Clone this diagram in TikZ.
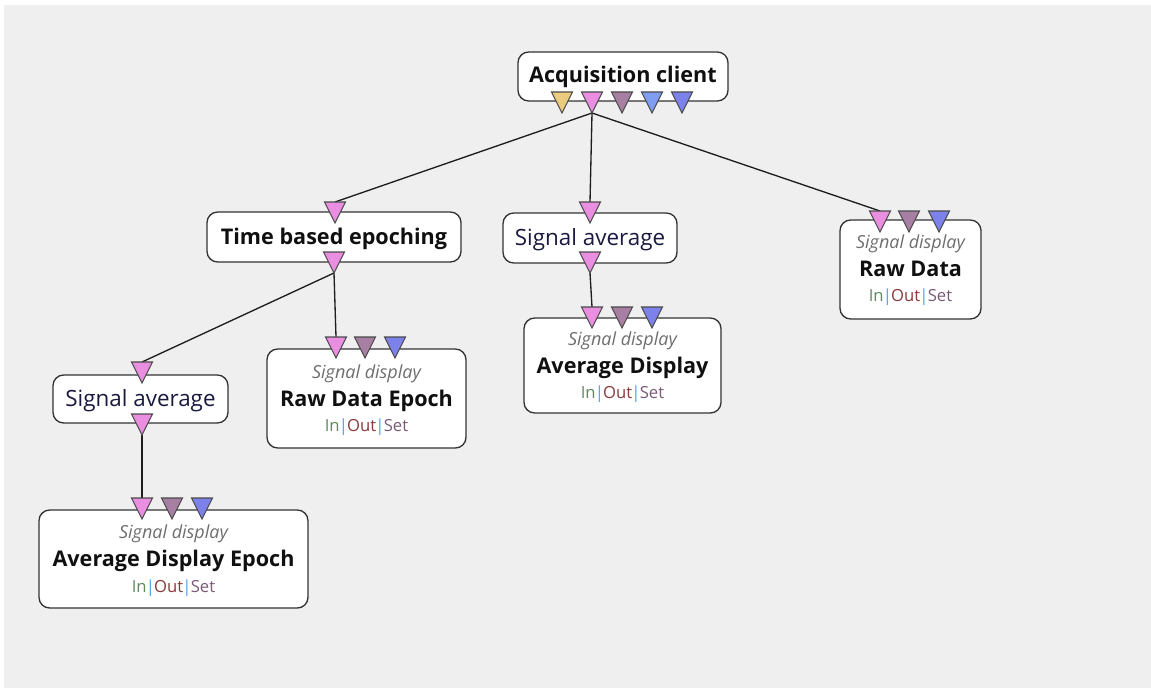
\documentclass[tikz,border=0pt]{standalone}
\usepackage{fontspec}
\setmainfont{Open Sans}
\definecolor{bggray}{HTML}{EFEFEF}
\definecolor{boxline}{HTML}{333333}
\definecolor{edgeline}{HTML}{1E1E1E}
\definecolor{portline}{HTML}{4A4A4A}
\definecolor{pyellow}{HTML}{EDCB7E}
\definecolor{ppink}{HTML}{E98EE0}
\definecolor{pmauve}{HTML}{A77FA2}
\definecolor{plblue}{HTML}{7F9EF2}
\definecolor{pblue}{HTML}{7C82EA}
\definecolor{ctitle}{HTML}{101010}
\definecolor{cplain}{HTML}{1A1A40}
\definecolor{csub}{HTML}{6E6E6E}
\definecolor{cin}{HTML}{5F8A5F}
\definecolor{cout}{HTML}{8B3A3A}
\definecolor{cset}{HTML}{7B5A78}
\definecolor{csep}{HTML}{4F9FE8}
\newcommand\porttri[4]{%
  \filldraw[fill=#4, draw=portline, line width=0.8pt, line join=miter] (#2-10.5,#3) -- (#2+10.5,#3) -- (#2,#3+21) -- cycle;
  \coordinate (#1-top) at (#2,#3);
  \coordinate (#1-tip) at (#2,#3+21);}
\newcommand\ios{{\color{cin}In}\kern-0.05em{\color{csep}|}\kern-0.05em{\color{cout}Out}\kern-0.05em{\color{csep}|}\kern-0.05em{\color{cset}Set}}
\tikzset{
  modbox/.style={draw=boxline, fill=white, line width=1pt, rounded corners=8pt, inner sep=0pt},
  titletext/.style={font=\fontsize{16.2}{18}\selectfont\bfseries, text=ctitle, inner sep=0pt, text height=0.72em, text depth=0pt},
  plaintext/.style={font=\fontsize{16.8}{19}\selectfont, text=cplain, inner sep=0pt, text height=0.72em, text depth=0pt},
  subtext/.style={font=\fontsize{13.5}{15}\selectfont\itshape, text=csub, inner sep=0pt, text height=0.72em, text depth=0pt},
  iotext/.style={font=\fontsize{12.5}{14}\selectfont, inner sep=0pt, text height=0.72em, text depth=0pt},
  conn/.style={draw=edgeline, line width=1pt},
}
\begin{document}
\begin{tikzpicture}[x=0.75pt,y=-0.75pt]
\useasboundingbox (0,0) rectangle (1151,688);
\fill[white] (0,0) rectangle (1151,688);
\fill[bggray] (4,5) rectangle (1151,688);

% boxes
\draw[modbox] (518,52) rectangle (728,101);
\node[titletext] (acqt) at (623,78) {Acquisition client};

\draw[modbox] (207,212) rectangle (461,262);
\node[titletext] (tbet) at (334,240) {Time based epoching};

\draw[modbox] (503,213) rectangle (677,263);
\node[plaintext] (samt) at (590,241) {Signal average};

\draw[modbox] (840,220) rectangle (981,319);
\node[subtext] (rds) at (910.5,244) {Signal display};
\node[titletext] (rdt) at (910.5,272) {Raw Data};
\node[iotext] (rdi) at (910.5,297) {\ios};

\draw[modbox] (524,318) rectangle (721,413);
\node[subtext] (ads) at (622.5,341) {Signal display};
\node[titletext] (adt) at (622.5,369) {Average Display};
\node[iotext] (adi) at (622.5,394) {\ios};

\draw[modbox] (267,349) rectangle (466,448);
\node[subtext] (rdes) at (366.5,374) {Signal display};
\node[titletext] (rdet) at (366.5,402) {Raw Data Epoch};
\node[iotext] (rdei) at (366.5,427) {\ios};

\draw[modbox] (53,375) rectangle (228,423);
\node[plaintext] (salt) at (140.5,402) {Signal average};

\draw[modbox] (39,510) rectangle (308,608);
\node[subtext] (ades) at (173.5,534) {Signal display};
\node[titletext] (adet) at (173.5,562) {Average Display Epoch};
\node[iotext] (adei) at (173.5,588) {\ios};

% port coordinates (drawn after edges)
\coordinate (acq-tip) at (592,113);
\coordinate (tbein-top) at (335,202);
\coordinate (tbeout-tip) at (334,273);
\coordinate (samin-top) at (590,202);
\coordinate (samout-tip) at (590,273);
\coordinate (rdin-top) at (880,211);
\coordinate (adin-top) at (592,307);
\coordinate (rdein-top) at (336,337);
\coordinate (salin-top) at (142,362);
\coordinate (salout-tip) at (142,435);
\coordinate (adein-top) at (142,498);

% connectors
\draw[conn] (acq-tip) -- (tbein-top);
\draw[conn] (acq-tip) -- (samin-top);
\draw[conn] (acq-tip) -- (rdin-top);
\draw[conn] (tbeout-tip) -- (salin-top);
\draw[conn] (tbeout-tip) -- (rdein-top);
\draw[conn] (samout-tip) -- (adin-top);
\draw[conn] (salout-tip) -- (adein-top);

% ports
\porttri{acqa}{562}{92}{pyellow}
\porttri{acqb}{592}{92}{ppink}
\porttri{acqc}{622}{92}{pmauve}
\porttri{acqd}{652}{92}{plblue}
\porttri{acqe}{682}{92}{pblue}

\porttri{tbei}{335}{202}{ppink}
\porttri{tbeo}{334}{252}{ppink}

\porttri{sami}{590}{202}{ppink}
\porttri{samo}{590}{252}{ppink}

\porttri{rda}{880}{211}{ppink}
\porttri{rdb}{909}{211}{pmauve}
\porttri{rdc}{939}{211}{pblue}

\porttri{ada}{592}{307}{ppink}
\porttri{adb}{622}{307}{pmauve}
\porttri{adc}{652}{307}{pblue}

\porttri{rdea}{336}{337}{ppink}
\porttri{rdeb}{365}{337}{pmauve}
\porttri{rdec}{395}{337}{pblue}

\porttri{sali}{142}{362}{ppink}
\porttri{salo}{142}{414}{ppink}

\porttri{adea}{142}{498}{ppink}
\porttri{adeb}{172}{498}{pmauve}
\porttri{adec}{202}{498}{pblue}
\end{tikzpicture}
\end{document}
